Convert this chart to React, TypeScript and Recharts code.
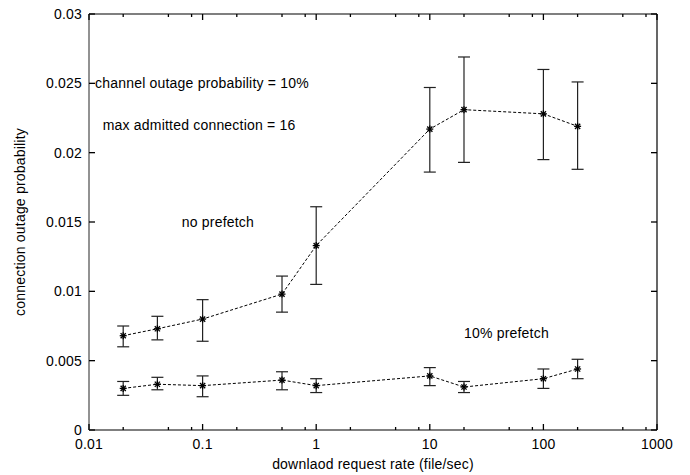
import {
  LineChart,
  Line,
  XAxis,
  YAxis,
  ErrorBar,
  ReferenceDot,
} from "recharts";

const rates = [0.02, 0.04, 0.1, 0.5, 1, 10, 20, 100, 200];

const noPrefetch = [0.0068, 0.0073, 0.008, 0.0098, 0.0133, 0.0217, 0.0231, 0.0228, 0.0219];
const noPrefetchLow = [0.006, 0.0065, 0.0064, 0.0085, 0.0105, 0.0186, 0.0193, 0.0195, 0.0188];
const noPrefetchHigh = [0.0075, 0.0082, 0.0094, 0.0111, 0.0161, 0.0247, 0.0269, 0.026, 0.0251];

const prefetch = [0.003, 0.0033, 0.0032, 0.0036, 0.0032, 0.0039, 0.0031, 0.0037, 0.0044];
const prefetchLow = [0.0025, 0.0029, 0.0024, 0.0029, 0.0027, 0.0032, 0.0027, 0.003, 0.0037];
const prefetchHigh = [0.0035, 0.0038, 0.0039, 0.0042, 0.0037, 0.0045, 0.0035, 0.0044, 0.0051];

const xMajorTicks = [0.01, 0.1, 1, 10, 100, 1000];
const xMinorTicks = [0.02, 0.05, 0.08, 0.2, 0.5, 0.8, 2, 5, 8, 20, 50, 80, 200, 500, 800];
const yTicks = [0, 0.005, 0.01, 0.015, 0.02, 0.025, 0.03];

const FONT = "'Liberation Sans', Arial, Helvetica, sans-serif";
const FS = 14;
const LS = 0.2;

function buildSeries(values: number[], low: number[], high: number[]) {
  return rates.map((x, i) => ({
    x,
    y: values[i],
    err: [values[i] - low[i], high[i] - values[i]],
  }));
}

const noPrefetchData = buildSeries(noPrefetch, noPrefetchLow, noPrefetchHigh);
const prefetchData = buildSeries(prefetch, prefetchLow, prefetchHigh);

function Star(props: any) {
  const { cx, cy } = props;
  if (cx == null || cy == null) return null;
  const r = 3.5;
  const d = 2.6;
  return (
    <g stroke="#000" strokeWidth={1.3}>
      <line x1={cx - r} y1={cy} x2={cx + r} y2={cy} />
      <line x1={cx} y1={cy - r} x2={cx} y2={cy + r} />
      <line x1={cx - d} y1={cy - d} x2={cx + d} y2={cy + d} />
      <line x1={cx - d} y1={cy + d} x2={cx + d} y2={cy - d} />
    </g>
  );
}

// gnuplot style: ticks point into the plot, labels only on bottom/left
function BottomTick(props: any) {
  const { x, y, payload } = props;
  const major = xMajorTicks.includes(payload.value);
  return (
    <g>
      <path d={`M${x},${y}V${y - (major ? 6 : 3)}`} stroke="#000" strokeWidth={1.3} fill="none" />
      {major && (
        <text x={x} y={y + 19} textAnchor="middle" fill="#000" fontSize={FS} letterSpacing={LS} fontFamily={FONT}>
          {String(payload.value)}
        </text>
      )}
    </g>
  );
}

function TopTick(props: any) {
  const { x, y, payload } = props;
  const major = xMajorTicks.includes(payload.value);
  return <path d={`M${x},${y}V${y + (major ? 6 : 3)}`} stroke="#000" strokeWidth={1.3} fill="none" />;
}

function LeftTick(props: any) {
  const { x, y, payload } = props;
  return (
    <g>
      <path d={`M${x},${y}H${x + 6}`} stroke="#000" strokeWidth={1.3} fill="none" />
      <text x={x - 7} y={y + 5} textAnchor="end" fill="#000" fontSize={FS} letterSpacing={LS} fontFamily={FONT}>
        {String(payload.value)}
      </text>
    </g>
  );
}

function RightTick(props: any) {
  const { x, y } = props;
  return <path d={`M${x},${y}H${x - 6}`} stroke="#000" strokeWidth={1.3} fill="none" />;
}

const noteStyle = { fill: "#000", fontSize: FS, letterSpacing: LS, fontFamily: FONT };

export default function App() {
  return (
    <div style={{ width: 690, height: 475, background: "#fff" }}>
      <style>{"body{margin:0}"}</style>
      <LineChart
        width={690}
        height={475}
        margin={{ top: 13, right: 32, bottom: 0, left: 0 }}
        style={{ fontFamily: FONT }}
      >
        <XAxis
          xAxisId="bottom"
          type="number"
          dataKey="x"
          scale="log"
          domain={[0.01, 1000]}
          allowDataOverflow
          ticks={[...xMajorTicks, ...xMinorTicks]}
          interval={0}
          tickSize={0}
          tickMargin={0}
          tick={<BottomTick />}
          height={45}
          axisLine={{ stroke: "#000", strokeWidth: 1.2 }}
          label={{
            value: "downlaod request rate (file/sec)",
            position: "insideBottom",
            offset: 6,
            style: noteStyle,
          }}
        />
        <XAxis
          xAxisId="top"
          orientation="top"
          type="number"
          dataKey="x"
          scale="log"
          domain={[0.01, 1000]}
          allowDataOverflow
          ticks={[...xMajorTicks, ...xMinorTicks]}
          interval={0}
          tickSize={0}
          tickMargin={0}
          tick={<TopTick />}
          height={1}
          axisLine={{ stroke: "#000", strokeWidth: 1.2 }}
        />
        <YAxis
          yAxisId="left"
          type="number"
          domain={[0, 0.03]}
          ticks={yTicks}
          interval={0}
          tickSize={0}
          tickMargin={0}
          tick={<LeftTick />}
          width={89}
          axisLine={{ stroke: "#777", strokeWidth: 1.6 }}
          label={{
            value: "connection outage probability",
            angle: -90,
            position: "insideLeft",
            offset: 20,
            style: { ...noteStyle, textAnchor: "middle" },
          }}
        />
        <YAxis
          yAxisId="right"
          orientation="right"
          type="number"
          domain={[0, 0.03]}
          ticks={yTicks}
          interval={0}
          tickSize={0}
          tickMargin={0}
          tick={<RightTick />}
          width={1}
          axisLine={{ stroke: "#000", strokeWidth: 1.2 }}
        />

        <Line
          xAxisId="bottom"
          yAxisId="left"
          data={noPrefetchData}
          dataKey="y"
          type="linear"
          stroke="#000"
          strokeWidth={1}
          strokeDasharray="3 2"
          dot={(p: any) => <Star key={`a${p.index}`} {...p} />}
          activeDot={false}
          isAnimationActive={false}
        >
          <ErrorBar dataKey="err" direction="y" width={6} stroke="#222" strokeWidth={1.2} isAnimationActive={false} />
        </Line>
        <Line
          xAxisId="bottom"
          yAxisId="left"
          data={prefetchData}
          dataKey="y"
          type="linear"
          stroke="#000"
          strokeWidth={1}
          strokeDasharray="3 2"
          dot={(p: any) => <Star key={`b${p.index}`} {...p} />}
          activeDot={false}
          isAnimationActive={false}
        >
          <ErrorBar dataKey="err" direction="y" width={6} stroke="#222" strokeWidth={1.2} isAnimationActive={false} />
        </Line>
        <Line
          xAxisId="top"
          yAxisId="right"
          data={prefetchData}
          dataKey="y"
          stroke="none"
          dot={false}
          activeDot={false}
          legendType="none"
          isAnimationActive={false}
        />

        <ReferenceDot xAxisId="bottom" yAxisId="left" x={0.0113} y={0.025} r={0} stroke="none" ifOverflow="visible"
          label={{ value: "channel outage probability = 10%", position: "right", offset: 0, style: noteStyle }} />
        <ReferenceDot xAxisId="bottom" yAxisId="left" x={0.0132} y={0.022} r={0} stroke="none" ifOverflow="visible"
          label={{ value: "max admitted connection = 16", position: "right", offset: 0, style: noteStyle }} />
        <ReferenceDot xAxisId="bottom" yAxisId="left" x={0.0656} y={0.015} r={0} stroke="none" ifOverflow="visible"
          label={{ value: "no prefetch", position: "right", offset: 0, style: noteStyle }} />
        <ReferenceDot xAxisId="bottom" yAxisId="left" x={20} y={0.007} r={0} stroke="none" ifOverflow="visible"
          label={{ value: "10% prefetch", position: "right", offset: 0, style: noteStyle }} />
      </LineChart>
    </div>
  );
}
